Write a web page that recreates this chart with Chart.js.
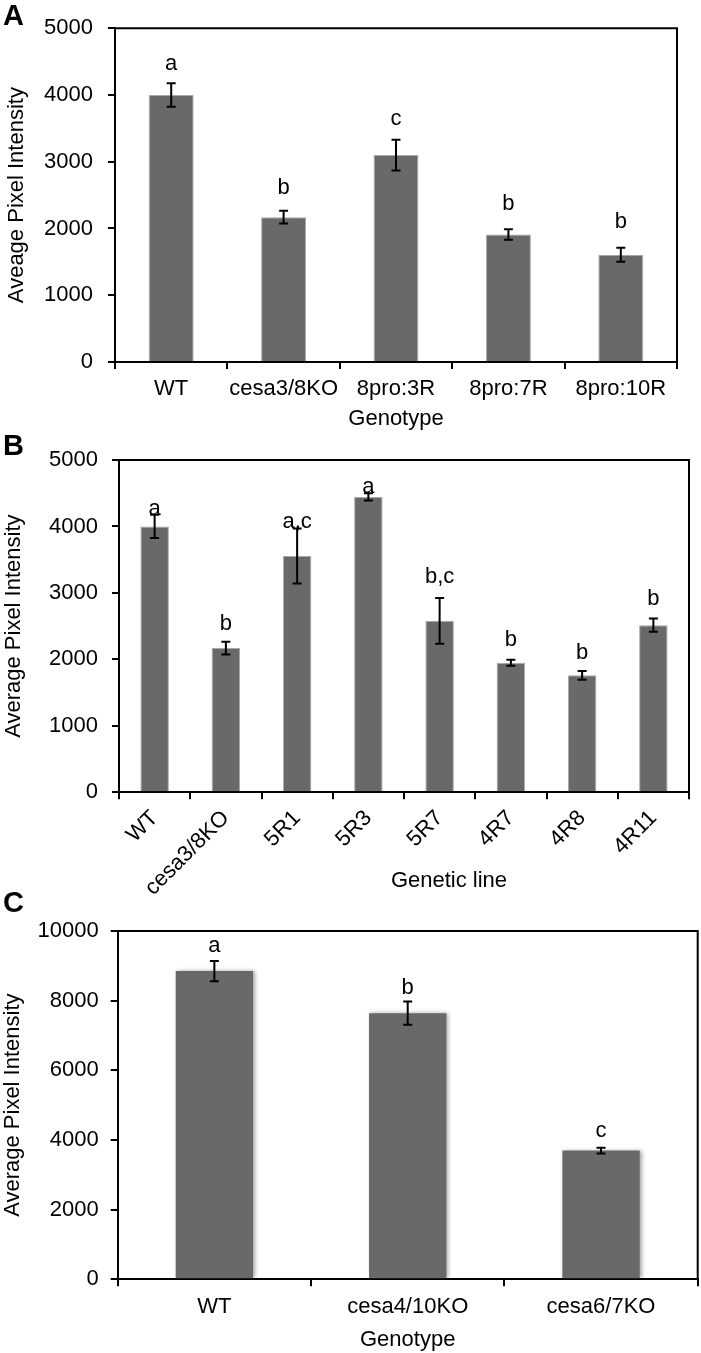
<!DOCTYPE html>
<html>
<head>
<meta charset="utf-8">
<script src="https://cdn.jsdelivr.net/npm/chart.js@4"></script>
<style>
body { margin: 0; background: #fff; }
#wrap { position: relative; width: 701px; height: 1353px; }
canvas { position: absolute; left: 0; }
.panel { position: absolute; left: 3px; font: bold 29px "Liberation Sans", Arial, sans-serif; line-height: 29px; color: #000; }
</style>
</head>
<body>
<div id="wrap">
  <canvas id="chartA" width="701" height="432" style="top:0px"></canvas>
  <canvas id="chartB" width="701" height="470" style="top:430px"></canvas>
  <canvas id="chartC" width="701" height="468" style="top:885px"></canvas>
  <div class="panel" style="top:1px">A</div>
  <div class="panel" style="top:431px">B</div>
  <div class="panel" style="top:888px">C</div>
</div>
<script>
// panel A
var labelsA = ["WT", "cesa3/8KO", "8pro:3R", "8pro:7R", "8pro:10R"];
var valuesA = [4000, 2170, 3100, 1910, 1605];
var errorsA = [175, 95, 230, 80, 105];
var lettersA = ["a", "b", "c", "b", "b"];
var ticksA = [0, 1000, 2000, 3000, 4000, 5000];

// panel B
var labelsB = ["WT", "cesa3/8KO", "5R1", "5R3", "5R7", "4R7", "4R8", "4R11"];
var valuesB = [4000, 2170, 3555, 4445, 2580, 1950, 1760, 2515];
var errorsB = [175, 95, 415, 55, 345, 45, 65, 100];
var lettersB = ["a", "b", "a,c", "a", "b,c", "b", "b", "b"];
var ticksB = [0, 1000, 2000, 3000, 4000, 5000];

// panel C
var labelsC = ["WT", "cesa4/10KO", "cesa6/7KO"];
var valuesC = [8850, 7640, 3695];
var errorsC = [290, 335, 80];
var lettersC = ["a", "b", "c"];
var ticksC = [0, 2000, 4000, 6000, 8000, 10000];

var FONT = '"Liberation Sans", Arial, sans-serif';
Chart.defaults.font.family = FONT;
Chart.defaults.color = '#000';

// error bars + significance letters
function errorPlugin(errors, letters, gaps) {
  return {
    id: 'errorBars',
    afterDatasetsDraw: function(chart) {
      var ctx = chart.ctx;
      var y = chart.scales.y;
      var vals = chart.data.datasets[0].data;
      var meta = chart.getDatasetMeta(0);
      ctx.save();
      ctx.strokeStyle = '#000';
      ctx.lineWidth = 2;
      ctx.fillStyle = '#000';
      ctx.font = '22px ' + FONT;
      ctx.textAlign = 'center';
      ctx.textBaseline = 'alphabetic';
      meta.data.forEach(function(bar, i) {
        var top = y.getPixelForValue(vals[i] + errors[i]);
        var bot = y.getPixelForValue(vals[i] - errors[i]);
        ctx.beginPath();
        ctx.moveTo(bar.x, top); ctx.lineTo(bar.x, bot);
        ctx.moveTo(bar.x - 4.5, top); ctx.lineTo(bar.x + 4.5, top);
        ctx.moveTo(bar.x - 4.5, bot); ctx.lineTo(bar.x + 4.5, bot);
        ctx.stroke();
        ctx.fillText(letters[i], bar.x, top - gaps[i]);
      });
      ctx.restore();
    }
  };
}

// top and right frame lines
var frame = {
  id: 'frame',
  afterDraw: function(chart) {
    var a = chart.chartArea, ctx = chart.ctx;
    ctx.save();
    ctx.strokeStyle = '#000';
    ctx.lineWidth = 2;
    ctx.beginPath();
    ctx.moveTo(a.left, a.top);
    ctx.lineTo(a.right, a.top);
    ctx.lineTo(a.right, a.bottom);
    ctx.stroke();
    ctx.restore();
  }
};

var shadow = {
  id: 'shadow',
  beforeDatasetDraw: function(chart) {
    var ctx = chart.ctx;
    ctx.save();
    ctx.shadowColor = 'rgba(0,0,0,0.35)';
    ctx.shadowBlur = 4;
    ctx.shadowOffsetX = 2;
  },
  afterDatasetDraw: function(chart) {
    chart.ctx.restore();
  }
};

function freeTitle(text, x, y) {
  return {
    id: 'freeTitle',
    afterDraw: function(chart) {
      var ctx = chart.ctx;
      ctx.save();
      ctx.fillStyle = '#000';
      ctx.font = '22px ' + FONT;
      ctx.textAlign = 'center';
      ctx.textBaseline = 'middle';
      ctx.fillText(text, x, y);
      ctx.restore();
    }
  };
}

function makeChart(id, labels, values, ticks, o, extra) {
  return new Chart(document.getElementById(id), {
    type: 'bar',
    data: {
      labels: labels,
      datasets: [{
        data: values,
        backgroundColor: '#696969',
        borderColor: o.edge,
        borderWidth: o.edgeWidth,
        barPercentage: 0.4,
        categoryPercentage: 1
      }]
    },
    options: {
      responsive: false,
      animation: false,
      layout: { padding: { top: o.top, right: o.right, left: 0, bottom: 0 } },
      plugins: { legend: { display: false }, tooltip: { enabled: false } },
      scales: {
        x: {
          offset: true,
          grid: { drawOnChartArea: false, color: '#000', lineWidth: 2, tickLength: 7, offset: true },
          border: { color: '#000', width: 2 },
          ticks: { color: '#000', font: { size: 22 }, padding: o.xPad, minRotation: o.rot, maxRotation: o.rot, autoSkip: false },
          title: { display: !!o.xTitle, text: o.xTitle || '', color: '#000', font: { size: 22 }, padding: { top: 0, bottom: 0 } },
          afterFit: function(s) { s.height = o.xHeight; }
        },
        y: {
          min: ticks[0],
          max: ticks[ticks.length - 1],
          grid: { drawOnChartArea: false, color: '#000', lineWidth: 2, tickLength: 7 },
          border: { color: '#000', width: 2 },
          ticks: {
            color: '#000', font: { size: 22 }, padding: o.yPad, stepSize: ticks[1] - ticks[0],
            callback: function(v) { return String(v); }
          },
          title: { display: true, text: o.yTitle, color: '#000', font: { size: 22 }, padding: { top: o.yTitlePad, bottom: 0 } },
          afterFit: function(s) { s.width = o.left; }
        }
      }
    },
    plugins: extra
  });
}

makeChart('chartA', labelsA, valuesA, ticksA, {
  top: 13.5, right: 24, left: 115, xHeight: 70, xPad: 7, yPad: 15, rot: 0,
  edge: '#a8a8a8', edgeWidth: 1,
  xTitle: 'Genotype', yTitle: 'Aveage Pixel Intensity', yTitlePad: 4
}, [frame, errorPlugin(errorsA, lettersA, [13, 17, 15, 19, 20])]);

makeChart('chartB', labelsB, valuesB, ticksB, {
  top: 30, right: 12, left: 119, xHeight: 107.7, xPad: 6, yPad: 14, rot: 45,
  edge: '#a8a8a8', edgeWidth: 1,
  xTitle: '', yTitle: 'Average Pixel Intensity', yTitlePad: 1
}, [frame, errorPlugin(errorsB, lettersB, [0, 12, 0, 0, 15, 14, 12, 14]), freeTitle('Genetic line', 449, 451)]);

makeChart('chartC', labelsC, valuesC, ticksC, {
  top: 46, right: 3.3, left: 117.7, xHeight: 73.7, xPad: 7, yPad: 12, rot: 0,
  edge: '#696969', edgeWidth: 0,
  xTitle: 'Genotype', yTitle: 'Average Pixel Intensity', yTitlePad: 0
}, [shadow, frame, errorPlugin(errorsC, lettersC, [9, 8, 11])]);
</script>
</body>
</html>
